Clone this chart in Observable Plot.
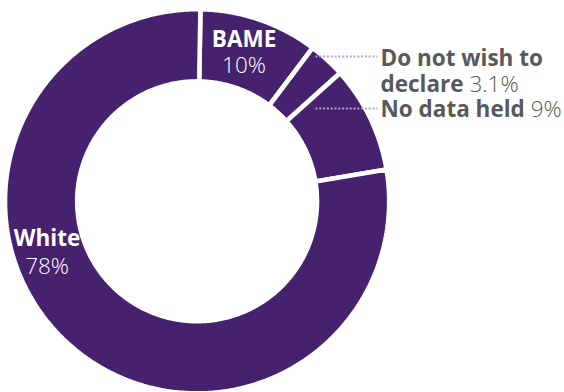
<!DOCTYPE html>
<html><head><meta charset="utf-8">
<script src="https://cdn.jsdelivr.net/npm/d3@7"></script>
<script src="https://cdn.jsdelivr.net/npm/@observablehq/plot@0.6"></script>
<style>html,body{margin:0;padding:0;background:#fff;} #chart svg{display:block}</style>
</head><body><div id="chart"></div>
<script>
// ---- data ----
const categories = ["BAME", "Do not wish to declare", "No data held", "White"];
const shares = [10, 3.1, 9, 78];
const valueLabels = ["10%", "3.1%", "9%", "78%"];

// ---- layout ----
const W = 564, H = 392;
const cx = 196.6, cy = 200.8, rOuter = 189.8, rInner = 122.2, gap = 4.6;
const rot = 1 * Math.PI / 180;
const Rg = rOuter + gap / 2;           // pixels per data unit
const ri = (rInner - gap / 2) / Rg;
const toX = px => (px - cx) / Rg, toY = py => (cy - py) / Rg;
const purple = "#46216d", grey = "#58595b", lavender = "#b4a5cf";
const font = "'Open Sans', 'Noto Sans', sans-serif";
const fs = 22.5;

const arcs = d3.pie().sort(null).value(d => d)(shares);
const pts = [];
arcs.forEach((a, i) => {
  const a0 = a.startAngle + rot, a1 = a.endAngle + rot;
  const n = Math.max(8, Math.ceil((a1 - a0) / 0.01));
  for (let k = 0; k <= n; k++) { const t = a0 + (a1 - a0) * k / n; pts.push({name: categories[i], x: Math.sin(t), y: Math.cos(t)}); }
  for (let k = n; k >= 0; k--) { const t = a0 + (a1 - a0) * k / n; pts.push({name: categories[i], x: ri * Math.sin(t), y: ri * Math.cos(t)}); }
});

// inside labels (BAME, White)
const insidePlacement = {BAME: {deg: 17.5, r: 156, dy: 13}, White: {deg: 251.2, r: 158.5, dy: 14}};
const inside = categories.map((c, i) => ({c, v: valueLabels[i]})).filter(d => insidePlacement[d.c]).map(d => {
  const p = insidePlacement[d.c], t = p.deg * Math.PI / 180;
  return {...d, x: p.r / Rg * Math.sin(t), y: p.r / Rg * Math.cos(t), dy: p.dy};
});
const insideMarks = inside.flatMap(d => [
  Plot.text([d], {x: "x", y: "y", text: "c", dy: -d.dy, fill: "white", fontWeight: "bold", fontSize: fs, textAnchor: "middle"}),
  Plot.text([d], {x: "x", y: "y", text: "v", dy: d.dy, fill: "white", fontWeight: 300, fontSize: fs, textAnchor: "middle"})
]);

// outside labels
const ctx = document.createElement("canvas").getContext("2d");
const measure = (s, w) => { ctx.font = `${w} ${fs}px ${font}`; return ctx.measureText(s).width; };
const tx = 380;
const outsideBold = [
  {t: "Do not wish to", x: toX(tx), y: toY(58.5)},
  {t: "declare", x: toX(tx), y: toY(84)},
  {t: "No data held", x: toX(tx), y: toY(109.5)}
];
const outsideReg = [
  {t: valueLabels[1], x: toX(tx + measure("declare ", "bold")), y: toY(84)},
  {t: valueLabels[2], x: toX(tx + measure("No data held ", "bold")), y: toY(109.5)}
];
const leaders = [
  {x1: toX(315), x2: toX(377), y: toY(56)},
  {x1: toX(315), x2: toX(377), y: toY(108)}
];

const chart = Plot.plot({
  width: W, height: H, margin: 0,
  style: {fontFamily: font, background: "#fff"},
  x: {domain: [-1, 1], range: [cx - Rg, cx + Rg], axis: null},
  y: {domain: [-1, 1], range: [cy + Rg, cy - Rg], axis: null},
  marks: [
    Plot.line(pts, {x: "x", y: "y", z: "name", fill: purple, stroke: "white", strokeWidth: gap, curve: "linear-closed", strokeLinejoin: "miter"}),
    Plot.link(leaders, {x1: "x1", x2: "x2", y1: "y", y2: "y", stroke: lavender, strokeWidth: 2, strokeDasharray: "2,1.8"}),
    ...insideMarks,
    Plot.text(outsideBold, {x: "x", y: "y", text: "t", fill: grey, fontWeight: "bold", fontSize: fs, textAnchor: "start"}),
    Plot.text(outsideReg, {x: "x", y: "y", text: "t", fill: grey, fontWeight: 300, fontSize: fs, textAnchor: "start"})
  ]
});
document.getElementById("chart").appendChild(chart);
</script>
</body></html>
